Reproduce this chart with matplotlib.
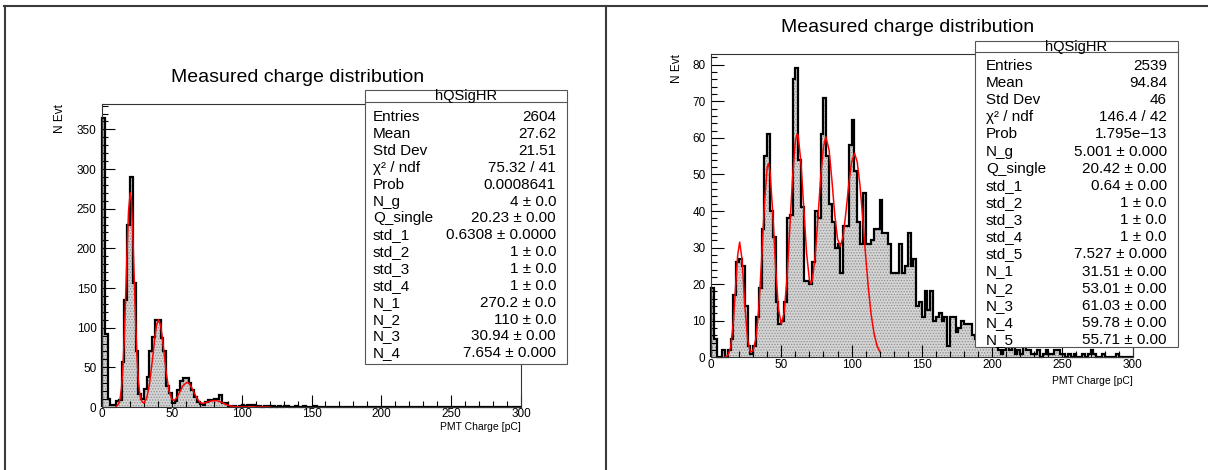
import matplotlib.pyplot as plt
import numpy as np
from matplotlib.patches import Rectangle
from matplotlib.lines import Line2D
from matplotlib.ticker import MultipleLocator

plt.rcParams['font.family'] = ['Liberation Sans', 'DejaVu Sans']
plt.rcParams['hatch.linewidth'] = 0.6

# histogram bin contents, 2 pC bins from 0 to 300 pC
bin_edges = list(range(0, 302, 2))

left_counts = [364, 92, 10, 3, 3, 8, 9, 57, 135, 230,
               290, 156, 70, 17, 10, 23, 38, 70, 88, 110,
               110, 87, 70, 27, 18, 5, 8, 22, 33, 36,
               36, 30, 22, 13, 6, 4, 3, 6, 9, 9,
               10, 10, 15, 5, 5, 1, 1, 1, 0, 1,
               3, 1, 2, 3, 2, 1, 1, 0, 1, 1,
               0, 1, 0, 1, 0, 1, 1, 0, 0, 1,
               0, 0, 1, 0, 0, 0, 1, 0, 0, 0,
               0, 0, 0, 0, 0, 0, 0, 0, 0, 0,
               0, 0, 0, 0, 0, 0, 0, 0, 0, 0,
               0, 0, 0, 0, 0, 0, 0, 0, 0, 0,
               0, 0, 0, 0, 0, 0, 0, 0, 0, 0,
               0, 0, 0, 0, 0, 0, 0, 0, 0, 0,
               0, 0, 0, 0, 0, 0, 0, 0, 0, 0,
               0, 0, 0, 0, 0, 0, 0, 0, 0, 0]

right_counts = [19, 5, 0, 0, 2, 0, 2, 5, 17, 26,
                27, 25, 14, 3, 1, 3, 11, 19, 35, 55,
                61, 40, 33, 15, 9, 10, 15, 38, 39, 76,
                79, 54, 41, 21, 21, 20, 26, 40, 38, 61,
                71, 55, 42, 37, 30, 31, 23, 36, 36, 58,
                65, 51, 37, 31, 45, 31, 31, 32, 35, 35,
                43, 34, 34, 31, 23, 23, 23, 31, 23, 25,
                34, 25, 27, 14, 15, 11, 18, 13, 18, 10,
                11, 12, 10, 11, 3, 11, 11, 7, 8, 10,
                9, 9, 9, 6, 5, 5, 4, 5, 4, 4,
                4, 3, 2, 1, 2, 3, 2, 3, 1, 2,
                1, 3, 2, 2, 1, 1, 2, 0, 1, 2,
                1, 1, 2, 2, 1, 1, 0, 1, 0, 1,
                0, 0, 1, 0, 1, 2, 1, 0, 0, 1,
                0, 0, 0, 0, 1, 0, 0, 0, 0, 0]

# fitted curves
left_fit_x = [10, 12, 13, 14, 15, 16, 17, 18, 19, 20.2, 21, 22, 23, 24, 25, 26, 27, 28, 29, 30,
              32, 34, 36, 38, 39, 40.5, 42, 43, 44, 46, 48, 50, 52, 54, 56, 58, 60.7, 62, 64, 66,
              68, 70, 72, 74, 76, 78, 80, 82, 84, 86, 88, 90, 92, 95, 100, 110, 120]
left_fit_y = [0.5, 4, 11, 25, 51, 91, 143, 200, 247, 270, 262, 221, 166, 111, 65, 34, 17, 9, 6, 5,
              11, 29, 58, 90, 103, 110, 103, 90, 75, 43, 20, 9.5, 8.5, 13, 20, 27, 31, 30.5, 25, 18,
              11, 6, 4.4, 5.5, 6.5, 7.5, 8, 8, 7, 5.5, 3.8, 2.3, 1.3, 0.5, 0.1, 0, 0]

right_fit_x = [10, 12, 14, 16, 18, 19, 20.4, 22, 23, 24, 26, 28, 30, 32, 34, 36, 38, 40, 40.8, 42,
               44, 46, 48, 50, 52, 54, 56, 58, 60, 61.3, 62, 64, 66, 68, 70, 71, 72, 74, 76, 78,
               80, 81.7, 84, 86, 88, 90, 92, 94, 96, 98, 100, 102.1, 104, 106, 108, 110, 112, 114,
               116, 118, 120]
right_fit_y = [0.05, 0.5, 2.7, 10, 22.4, 28, 31.5, 27, 21.1, 14.5, 5, 1.4, 1.8, 5.3, 13.4, 26.7, 42, 52, 53, 50.8,
               39.2, 24.3, 13.2, 9.1, 12.1, 21.3, 34.9, 49, 59.1, 61.1, 60.6, 53.3, 40.8, 28.5, 21.2, 20.2, 21, 27.2, 37.7, 49.1,
               57.5, 60.3, 56.7, 48.5, 39.2, 32.4, 30.3, 33.1, 39.7, 47.3, 53.4, 55.8, 53.5, 47, 37.8, 27.8, 18.7, 11.5,
               6.5, 3.3, 1.6]

left_stats = [("Entries", "2604"), ("Mean", "27.62"), ("Std Dev", "21.51"),
              ("χ² / ndf", "75.32 / 41"), ("Prob", "0.0008641"), ("N_g", "4 ± 0.0"),
              ("Q_single", "20.23 ± 0.00"), ("std_1", "0.6308 ± 0.0000"), ("std_2", "1 ± 0.0"),
              ("std_3", "1 ± 0.0"), ("std_4", "1 ± 0.0"), ("N_1", "270.2 ± 0.0"),
              ("N_2", "110 ± 0.0"), ("N_3", "30.94 ± 0.00"), ("N_4", "7.654 ± 0.000")]

right_stats = [("Entries", "2539"), ("Mean", "94.84"), ("Std Dev", "46"),
               ("χ² / ndf", "146.4 / 42"), ("Prob", "1.795e−13"), ("N_g", "5.001 ± 0.000"),
               ("Q_single", "20.42 ± 0.00"), ("std_1", "0.64 ± 0.00"), ("std_2", "1 ± 0.0"),
               ("std_3", "1 ± 0.0"), ("std_4", "1 ± 0.0"), ("std_5", "7.527 ± 0.000"),
               ("N_1", "31.51 ± 0.00"), ("N_2", "53.01 ± 0.00"), ("N_3", "61.03 ± 0.00"),
               ("N_4", "59.78 ± 0.00"), ("N_5", "55.71 ± 0.00")]

W, H = 1208, 470
fig = plt.figure(figsize=(W / 100, H / 100), dpi=100)


def fx(px):
    return px / W


def fy(py):
    return 1 - py / H


def make_axes(x0, y0, x1, y1):
    return fig.add_axes([fx(x0), fy(y1), (x1 - x0) / W, (y1 - y0) / H])


def draw_hist(ax, counts, fit_x, fit_y, ymax, ymajor, yminor):
    ax.stairs(counts, bin_edges, fill=True, facecolor='#d4d4d4', edgecolor='#8f8f8f',
              hatch='......', linewidth=0)
    ax.stairs(counts, bin_edges, baseline=0, color='black', linewidth=1.6, clip_on=False)
    ax.plot(fit_x, fit_y, color='red', linewidth=1.1)
    ax.set_xlim(0, 300)
    ax.set_ylim(0, ymax)
    ax.xaxis.set_major_locator(MultipleLocator(50))
    ax.xaxis.set_minor_locator(MultipleLocator(10))
    ax.yaxis.set_major_locator(MultipleLocator(ymajor))
    ax.yaxis.set_minor_locator(MultipleLocator(yminor))
    ax.tick_params(which='both', direction='in', top=False, right=False, labelsize=8.5)
    ax.tick_params(which='major', length=9, width=0.8)
    ax.tick_params(which='minor', length=4.5, width=0.8)
    ax.tick_params(axis='x', pad=1)
    ax.tick_params(axis='y', pad=4)
    for s in ax.spines.values():
        s.set_linewidth(0.8)
        s.set_color('#333333')


def draw_stats(x0, y0, x1, y1, head_y, rows, row0, step, lx, rx):
    fig.patches.append(Rectangle((fx(x0), fy(y1)), (x1 - x0) / W, (y1 - y0) / H,
                                 transform=fig.transFigure, facecolor='white',
                                 edgecolor='#555555', linewidth=0.8, zorder=5))
    fig.lines.append(Line2D([fx(x0), fx(x1)], [fy(head_y), fy(head_y)],
                            transform=fig.transFigure, color='#555555', linewidth=0.8, zorder=6))
    fig.text(fx((x0 + x1) / 2), fy((y0 + head_y) / 2 + 0.5), "hQSigHR", ha='center', va='center',
             fontsize=10.5, zorder=7)
    for i, (name, val) in enumerate(rows):
        y = row0 + i * step
        fig.text(fx(lx), fy(y), name, ha='left', va='center', fontsize=11, zorder=7)
        fig.text(fx(rx), fy(y), val, ha='right', va='center', fontsize=11, zorder=7)


# left pad
axL = make_axes(102, 104, 521, 407)
draw_hist(axL, left_counts, left_fit_x, left_fit_y, 382, 50, 10)
fig.text(fx(298), fy(77), "Measured charge distribution", ha='center', va='center', fontsize=14)
fig.text(fx(521), fy(427), "PMT Charge [pC]", ha='right', va='center', fontsize=7.5)
fig.text(fx(60), fy(104), "N Evt", ha='center', va='top', rotation=90, fontsize=8.5)
draw_stats(365, 90, 567, 364, 101.7, left_stats, 117.3, 16.86, 373, 556)

# right pad
axR = make_axes(711, 54, 1132.7, 357.3)
draw_hist(axR, right_counts, right_fit_x, right_fit_y, 82.95, 10, 2)
fig.text(fx(908), fy(27), "Measured charge distribution", ha='center', va='center', fontsize=14)
fig.text(fx(1132.7), fy(381), "PMT Charge [pC]", ha='right', va='center', fontsize=7.5)
fig.text(fx(676.7), fy(54), "N Evt", ha='center', va='top', rotation=90, fontsize=8.5)
draw_stats(975, 40.7, 1178, 347.3, 51.7, right_stats, 66, 17.125, 986, 1167)

# canvas divisions
for xs, ys in [([4, 1208], [5.5, 5.5]), ([4.5, 4.5], [5.5, 470]), ([606, 606], [5.5, 470])]:
    fig.lines.append(Line2D([fx(v) for v in xs], [fy(v) for v in ys], transform=fig.transFigure,
                            color='#3a3a3a', linewidth=1.5))

plt.savefig('out.png', dpi=100)
